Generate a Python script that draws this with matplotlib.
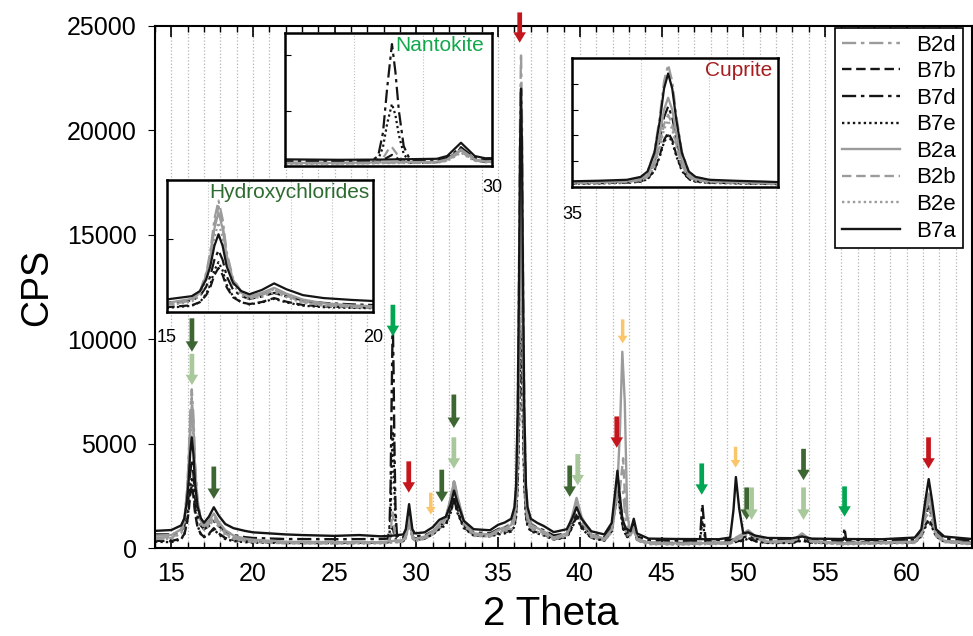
import matplotlib
matplotlib.use("Agg")
import matplotlib.pyplot as plt
from matplotlib.ticker import MultipleLocator

plt.rcParams['font.family'] = ['Liberation Sans', 'DejaVu Sans']

# ---- data: (2theta, CPS) ----
b7a = [(14.0, 820), (15.0, 860), (15.6, 1080), (15.8, 1430), (15.95, 2220), (16.05, 3100), (16.15, 4510),
       (16.25, 5300), (16.35, 4510), (16.45, 3100), (16.6, 2000), (16.8, 1430), (17.0, 1210), (17.3, 1500),
       (17.6, 1950), (17.9, 1550), (18.3, 1150), (18.8, 950), (19.5, 820), (20.0, 750), (22.0, 650),
       (23.0, 620), (25.0, 580), (26.5, 620), (27.8, 560), (28.4, 580), (29.2, 650), (29.35, 900),
       (29.45, 1500), (29.55, 2100), (29.65, 1500), (29.75, 900), (29.9, 700), (30.5, 750), (31.0, 1000),
       (31.4, 1350), (31.8, 1500), (32.1, 2100), (32.3, 2750), (32.5, 2200), (32.9, 1300), (33.5, 900),
       (34.5, 850), (35.0, 1110), (35.4, 1220), (35.8, 1400), (36.0, 1960), (36.1, 3010), (36.2, 6600),
       (36.28, 12930), (36.34, 19050), (36.4, 22000), (36.46, 19050), (36.52, 12930), (36.6, 6600),
       (36.7, 3010), (36.8, 1960), (37.0, 1400), (37.4, 1200), (37.8, 1050), (38.4, 760), (39.2, 900),
       (39.55, 1450), (39.8, 1950), (40.1, 1400), (40.7, 800), (41.5, 650), (41.95, 1200), (42.15, 2600),
       (42.3, 3700), (42.45, 2500), (42.6, 1400), (42.8, 950), (43.1, 800), (43.3, 1400), (43.5, 700),
       (44.2, 450), (46.0, 430), (48.5, 420), (49.2, 500), (49.4, 1800), (49.55, 3400), (49.75, 1900),
       (50.0, 700), (50.3, 750), (50.7, 600), (51.5, 480), (53.0, 470), (53.6, 550), (54.2, 450), (56.0, 430),
       (58.5, 420), (60.5, 500), (60.9, 900), (61.15, 2300), (61.35, 3300), (61.55, 2300), (61.8, 900),
       (62.3, 550), (64.0, 430)]

b2a = [(14.0, 600), (15.0, 620), (15.6, 900), (15.8, 1390), (15.95, 2500), (16.05, 3730), (16.15, 5690),
       (16.25, 6800), (16.35, 5690), (16.45, 3730), (16.6, 2190), (16.8, 1390), (17.0, 1080), (17.3, 1300),
       (17.6, 1650), (17.9, 1250), (18.3, 850), (18.8, 600), (19.5, 450), (20.0, 400), (22.0, 300),
       (25.0, 280), (27.8, 280), (29.2, 380), (29.35, 600), (29.45, 1050), (29.55, 1500), (29.65, 1050),
       (29.75, 600), (29.9, 420), (30.5, 550), (31.0, 800), (31.4, 1150), (31.8, 1500), (32.1, 2400),
       (32.3, 3200), (32.5, 2500), (32.9, 1300), (33.5, 700), (34.5, 650), (35.0, 870), (35.4, 950),
       (35.8, 1100), (36.0, 1530), (36.1, 2360), (36.2, 5180), (36.28, 10160), (36.34, 14980), (36.4, 17300),
       (36.46, 14980), (36.52, 10160), (36.6, 5180), (36.7, 2360), (36.8, 1530), (37.0, 1100), (37.4, 950),
       (37.8, 800), (38.4, 500), (39.2, 700), (39.55, 1600), (39.8, 2400), (40.1, 1500), (40.7, 650),
       (41.5, 450), (41.95, 900), (42.15, 2000), (42.3, 3000), (42.45, 5500), (42.6, 9400), (42.75, 7000),
       (42.9, 1600), (43.1, 700), (43.3, 1000), (43.5, 450), (44.2, 250), (46.0, 220), (49.2, 250),
       (49.55, 500), (50.0, 700), (50.3, 850), (50.7, 600), (51.5, 300), (53.0, 350), (53.6, 700),
       (54.2, 350), (56.0, 220), (60.5, 300), (60.9, 700), (61.15, 1800), (61.35, 2600), (61.55, 1800),
       (61.8, 700), (62.3, 350), (64.0, 220)]

b2d = [(14.0, 500), (15.0, 520), (15.6, 830), (15.8, 1400), (15.95, 2650), (16.05, 4080), (16.15, 6330),
       (16.25, 7600), (16.35, 6330), (16.45, 4080), (16.6, 2310), (16.8, 1400), (17.0, 1000), (17.3, 1200),
       (17.6, 1550), (17.9, 1150), (18.3, 750), (18.8, 500), (19.5, 380), (20.0, 330), (22.0, 260),
       (25.0, 250), (27.8, 250), (29.2, 330), (29.35, 550), (29.45, 950), (29.55, 1400), (29.65, 950),
       (29.75, 550), (29.9, 380), (30.5, 500), (31.0, 750), (31.4, 1100), (31.8, 1450), (32.1, 2400),
       (32.3, 3300), (32.5, 2500), (32.9, 1250), (33.5, 650), (34.5, 600), (35.0, 880), (35.4, 1000),
       (35.8, 1200), (36.0, 1800), (36.1, 2950), (36.2, 6870), (36.28, 13790), (36.34, 20470),
       (36.4, 23700), (36.46, 20470), (36.52, 13790), (36.6, 6870), (36.7, 2950), (36.8, 1800), (37.0, 1200),
       (37.4, 950), (37.8, 750), (38.4, 450), (39.2, 650), (39.55, 1500), (39.8, 2300), (40.1, 1400),
       (40.7, 600), (41.5, 400), (41.95, 850), (42.15, 1900), (42.3, 2900), (42.45, 2400), (42.65, 2700),
       (42.8, 1300), (43.1, 600), (43.3, 950), (43.5, 400), (44.2, 220), (46.0, 200), (49.2, 230),
       (50.0, 650), (50.3, 800), (50.7, 550), (51.5, 280), (53.0, 320), (53.6, 650), (54.2, 320), (56.0, 200),
       (60.5, 280), (60.9, 650), (61.15, 1700), (61.35, 2500), (61.55, 1700), (61.8, 650), (62.3, 320),
       (64.0, 200)]

b2b = [(14.0, 450), (15.0, 480), (15.6, 780), (15.8, 1320), (15.95, 2520), (16.05, 3860), (16.15, 5990),
       (16.25, 7200), (16.35, 5990), (16.45, 3860), (16.6, 2190), (16.8, 1320), (17.0, 950), (17.3, 1150),
       (17.6, 1500), (17.9, 1100), (18.3, 700), (18.8, 460), (19.5, 350), (20.0, 300), (22.0, 240),
       (25.0, 230), (27.8, 240), (28.3, 250), (28.42, 700), (28.5, 1500), (28.55, 1700), (28.62, 1100),
       (28.72, 400), (28.85, 280), (29.2, 320), (29.35, 500), (29.45, 880), (29.55, 1300), (29.65, 880),
       (29.75, 500), (29.9, 360), (30.5, 480), (31.0, 700), (31.4, 1050), (31.8, 1400), (32.1, 2300),
       (32.3, 3100), (32.5, 2400), (32.9, 1200), (33.5, 620), (34.5, 580), (35.0, 780), (35.4, 850),
       (35.8, 970), (36.0, 1320), (36.1, 1990), (36.2, 4250), (36.28, 8260), (36.34, 12130), (36.4, 14000),
       (36.46, 12130), (36.52, 8260), (36.6, 4250), (36.7, 1990), (36.8, 1320), (37.0, 970), (37.4, 850),
       (37.8, 700), (38.4, 420), (39.2, 600), (39.55, 1400), (39.8, 2200), (40.1, 1300), (40.7, 560),
       (41.5, 380), (41.95, 800), (42.15, 1800), (42.3, 2700), (42.45, 2800), (42.65, 4300), (42.8, 1800),
       (43.1, 600), (43.3, 900), (43.5, 380), (44.2, 200), (46.0, 180), (49.2, 220), (50.0, 600), (50.3, 750),
       (50.7, 520), (51.5, 260), (53.0, 300), (53.6, 620), (54.2, 300), (56.0, 190), (60.5, 260), (60.9, 620),
       (61.15, 1600), (61.35, 2300), (61.55, 1600), (61.8, 620), (62.3, 300), (64.0, 190)]

b2e = [(14.0, 420), (15.0, 450), (15.6, 700), (15.8, 1150), (15.95, 2170), (16.05, 3290), (16.15, 5090),
       (16.25, 6100), (16.35, 5090), (16.45, 3290), (16.6, 1890), (16.8, 1150), (17.0, 870), (17.3, 1050),
       (17.6, 1350), (17.9, 1000), (18.3, 620), (18.8, 420), (19.5, 320), (20.0, 280), (22.0, 220),
       (25.0, 210), (27.8, 220), (29.2, 290), (29.35, 460), (29.45, 810), (29.55, 1200), (29.65, 810),
       (29.75, 460), (29.9, 330), (30.5, 430), (31.0, 650), (31.4, 950), (31.8, 1300), (32.1, 2100),
       (32.3, 2900), (32.5, 2200), (32.9, 1100), (33.5, 580), (34.5, 550), (35.0, 720), (35.4, 780),
       (35.8, 900), (36.0, 1220), (36.1, 1830), (36.2, 3920), (36.28, 7610), (36.34, 11180), (36.4, 12900),
       (36.46, 11180), (36.52, 7610), (36.6, 3920), (36.7, 1830), (36.8, 1220), (37.0, 900), (37.4, 780),
       (37.8, 650), (38.4, 400), (39.2, 560), (39.55, 1300), (39.8, 2000), (40.1, 1200), (40.7, 520),
       (41.5, 350), (41.95, 750), (42.15, 1700), (42.3, 2500), (42.45, 1800), (42.65, 1200), (42.9, 600),
       (43.3, 850), (43.5, 350), (44.2, 180), (46.0, 160), (49.2, 200), (50.0, 550), (50.3, 700), (50.7, 480),
       (51.5, 240), (53.0, 280), (53.6, 580), (54.2, 280), (56.0, 170), (60.5, 240), (60.9, 560),
       (61.15, 1300), (61.35, 1800), (61.55, 1300), (61.8, 560), (62.3, 280), (64.0, 170)]

b7d = [(14.0, 650), (15.0, 650), (15.6, 790), (15.8, 1080), (15.95, 1720), (16.05, 2430), (16.15, 3560),
       (16.25, 4200), (16.35, 3560), (16.45, 2430), (16.6, 1540), (16.8, 1080), (17.0, 900), (17.3, 1050),
       (17.6, 1300), (17.9, 1050), (18.3, 800), (18.8, 620), (19.5, 520), (20.0, 480), (22.0, 430),
       (25.0, 420), (27.8, 430), (28.25, 450), (28.35, 900), (28.42, 3000), (28.48, 7000), (28.55, 11000),
       (28.6, 8500), (28.65, 5000), (28.72, 1800), (28.8, 700), (28.9, 480), (29.2, 500), (29.35, 730),
       (29.45, 1200), (29.55, 1700), (29.65, 1200), (29.75, 730), (29.9, 560), (30.5, 600), (31.0, 800),
       (31.4, 1050), (31.8, 1250), (32.1, 1900), (32.3, 2500), (32.5, 1900), (32.9, 1100), (33.5, 750),
       (34.5, 700), (35.0, 900), (35.4, 970), (35.8, 1110), (36.0, 1490), (36.1, 2240), (36.2, 4760),
       (36.28, 9210), (36.34, 13520), (36.4, 15600), (36.46, 13520), (36.52, 9210), (36.6, 4760),
       (36.7, 2240), (36.8, 1490), (37.0, 1110), (37.4, 970), (37.8, 850), (38.4, 600), (39.2, 700),
       (39.55, 1200), (39.8, 1700), (40.1, 1150), (40.7, 650), (41.5, 520), (41.95, 1000), (42.15, 2200),
       (42.3, 3300), (42.45, 2200), (42.65, 1200), (42.9, 700), (43.3, 1200), (43.5, 550), (44.2, 380),
       (46.0, 350), (47.35, 360), (47.45, 1600), (47.5, 2100), (47.6, 1200), (47.7, 370), (49.2, 380),
       (50.0, 500), (50.3, 600), (50.7, 450), (51.5, 380), (53.0, 380), (53.6, 480), (54.2, 380), (56.1, 370),
       (56.2, 950), (56.3, 380), (60.5, 400), (60.9, 750), (61.15, 1500), (61.35, 2000), (61.55, 1500),
       (61.8, 750), (62.3, 450), (64.0, 370)]

b7e = [(14.0, 300), (15.0, 280), (15.6, 420), (15.8, 670), (15.95, 1230), (16.05, 1850), (16.15, 2840),
       (16.25, 3400), (16.35, 2840), (16.45, 1850), (16.6, 1080), (16.8, 670), (17.0, 520), (17.3, 650),
       (17.6, 900), (17.9, 650), (18.3, 430), (18.8, 330), (19.5, 280), (20.0, 260), (22.0, 240),
       (25.0, 240), (27.8, 260), (28.25, 280), (28.35, 600), (28.42, 1700), (28.48, 3800), (28.55, 5600),
       (28.6, 4600), (28.65, 2800), (28.72, 1100), (28.8, 400), (28.9, 300), (29.2, 340), (29.35, 570),
       (29.45, 1020), (29.55, 1500), (29.65, 1020), (29.75, 570), (29.9, 380), (30.5, 450), (31.0, 650),
       (31.4, 900), (31.8, 1100), (32.1, 1700), (32.3, 2300), (32.5, 1700), (32.9, 950), (33.5, 600),
       (34.5, 560), (35.0, 650), (35.4, 700), (35.8, 790), (36.0, 1030), (36.1, 1500), (36.2, 3110),
       (36.28, 5940), (36.34, 8680), (36.4, 10000), (36.46, 8680), (36.52, 5940), (36.6, 3110), (36.7, 1500),
       (36.8, 1030), (37.0, 790), (37.4, 700), (37.8, 600), (38.4, 400), (39.2, 500), (39.55, 1000),
       (39.8, 1500), (40.1, 950), (40.7, 480), (41.5, 350), (41.95, 800), (42.15, 1900), (42.3, 2900),
       (42.45, 1900), (42.65, 900), (42.9, 500), (43.3, 1000), (43.5, 380), (44.2, 230), (46.0, 220),
       (47.35, 230), (47.45, 1000), (47.5, 1300), (47.6, 800), (47.7, 240), (49.2, 240), (50.0, 350),
       (50.3, 450), (50.7, 320), (51.5, 240), (53.0, 240), (53.6, 350), (54.2, 240), (56.1, 240), (56.2, 600),
       (56.3, 240), (60.5, 260), (60.9, 550), (61.15, 1000), (61.35, 1300), (61.55, 1000), (61.8, 550),
       (62.3, 300), (64.0, 230)]

b7b = [(14.0, 350), (15.0, 330), (15.6, 460), (15.8, 670), (15.95, 1150), (16.05, 1680), (16.15, 2520),
       (16.25, 3000), (16.35, 2520), (16.45, 1680), (16.6, 1010), (16.8, 670), (17.0, 540), (17.3, 680),
       (17.6, 950), (17.9, 700), (18.3, 480), (18.8, 380), (19.5, 320), (20.0, 300), (22.0, 280),
       (25.0, 270), (27.8, 280), (28.3, 290), (28.45, 650), (28.55, 1000), (28.65, 600), (28.8, 300),
       (29.2, 360), (29.35, 600), (29.45, 1090), (29.55, 1600), (29.65, 1090), (29.75, 600), (29.9, 400),
       (30.5, 470), (31.0, 680), (31.4, 950), (31.8, 1150), (32.1, 1750), (32.3, 2350), (32.5, 1750),
       (32.9, 1000), (33.5, 620), (34.5, 580), (35.0, 700), (35.4, 750), (35.8, 840), (36.0, 1100),
       (36.1, 1590), (36.2, 3270), (36.28, 6240), (36.34, 9110), (36.4, 10500), (36.46, 9110), (36.52, 6240),
       (36.6, 3270), (36.7, 1590), (36.8, 1100), (37.0, 840), (37.4, 750), (37.8, 650), (38.4, 420),
       (39.2, 520), (39.55, 1050), (39.8, 1550), (40.1, 1000), (40.7, 500), (41.5, 370), (41.95, 850),
       (42.15, 2000), (42.3, 3000), (42.45, 2000), (42.65, 950), (42.9, 520), (43.3, 1050), (43.5, 400),
       (44.2, 250), (46.0, 240), (49.2, 250), (50.0, 380), (50.3, 480), (50.7, 340), (51.5, 250), (53.0, 260),
       (53.6, 380), (54.2, 260), (56.0, 250), (60.5, 280), (60.9, 600), (61.15, 1100), (61.35, 1400),
       (61.55, 1100), (61.8, 600), (62.3, 320), (64.0, 250)]

samples = ['B2d', 'B7b', 'B7d', 'B7e', 'B2a', 'B2b', 'B2e', 'B7a']
series = [b2d, b7b, b7d, b7e, b2a, b2b, b2e, b7a]

GRAY = '#9b9b9b'
BLACK = '#151515'
styles = {
    'B2d': dict(color=GRAY, dashes=(6, 2, 1.5, 2)),
    'B7b': dict(color=BLACK, dashes=(4, 2)),
    'B7d': dict(color=BLACK, dashes=(6, 2, 1.5, 2)),
    'B7e': dict(color=BLACK, dashes=(1, 1.3)),
    'B2a': dict(color=GRAY, linestyle='-'),
    'B2b': dict(color=GRAY, dashes=(4, 2)),
    'B2e': dict(color=GRAY, dashes=(1, 1.3)),
    'B7a': dict(color=BLACK, linestyle='-'),
}

# arrows: x, tail, tip, kind
arrows = [(16.26, 11000, 9400, 'dark'), (16.26, 9300, 7800, 'light'),
          (17.6, 3900, 2350, 'dark'), (28.56, 11650, 10150, 'bright'),
          (29.53, 4150, 2650, 'red'), (30.88, 2650, 1600, 'yellow'),
          (31.55, 3750, 2200, 'dark'), (32.29, 7350, 5750, 'dark'),
          (32.29, 5300, 3800, 'light'), (36.32, 25650, 24200, 'red'),
          (39.38, 3950, 2450, 'dark'), (39.87, 4500, 3000, 'light'),
          (42.26, 6300, 4800, 'red'), (42.62, 10950, 9800, 'yellow'),
          (47.46, 4050, 2550, 'bright'), (49.53, 4850, 3850, 'yellow'),
          (50.21, 2900, 1350, 'dark'), (50.51, 2900, 1350, 'light'),
          (53.69, 4750, 3250, 'dark'), (53.69, 2900, 1350, 'light'),
          (56.2, 2950, 1500, 'bright'), (61.34, 5300, 3800, 'red')]
arrow_colors = {'dark': '#3e6633', 'light': '#a9c89b', 'bright': '#00a651',
                'red': '#c4161c', 'yellow': '#fbc56a'}


def draw_series(ax, lw=1.7):
    for name, pts in zip(samples, series):
        xs = [p[0] for p in pts]
        ys = [p[1] for p in pts]
        ax.plot(xs, ys, lw=lw, label=name, **styles[name])


fig = plt.figure(figsize=(9.73, 6.36), dpi=100)
ax = fig.add_axes([155/973, 1-548/636, 817/973, 522/636])
draw_series(ax)

ax.set_xlim(14, 64)
ax.set_ylim(0, 25000)
ax.xaxis.set_major_locator(MultipleLocator(5))
ax.xaxis.set_minor_locator(MultipleLocator(1))
ax.yaxis.set_major_locator(MultipleLocator(5000))
ax.grid(which='both', axis='x', linestyle=':', color='#b5b5b5', linewidth=0.9)
ax.tick_params(axis='x', which='both', direction='in', top=True, labelsize=18, pad=10)
ax.tick_params(axis='x', which='major', length=8, width=1.2)
ax.tick_params(axis='x', which='minor', length=4, width=1)
ax.tick_params(axis='y', direction='out', length=5, labelsize=18, pad=8)
for s in ax.spines.values():
    s.set_linewidth(1.5)
ax.set_xlabel('2 Theta', fontsize=29)
ax.set_ylabel('CPS', fontsize=27)
ax.xaxis.set_label_coords(0.485, -0.09)
ax.yaxis.set_label_coords(-0.122, 0.5)

for x, y0, y1, kind in arrows:
    small = kind == 'yellow'
    st = ('simple,head_length=0.55,head_width=0.7,tail_width=0.25' if small
          else 'simple,head_length=0.75,head_width=0.9,tail_width=0.34')
    ax.annotate('', xy=(x, y1), xytext=(x, y0), annotation_clip=False,
                arrowprops=dict(arrowstyle=st, fc=arrow_colors[kind], ec='none',
                                shrinkA=0, shrinkB=0, mutation_scale=10))

leg = ax.legend(loc='upper right', bbox_to_anchor=(963/973, 1-28/636), bbox_transform=fig.transFigure,
                borderaxespad=0, fontsize=16, handlelength=2.6, labelspacing=0.25, handletextpad=0.75,
                fancybox=False, framealpha=1, edgecolor='black', borderpad=0.3)
leg.get_frame().set_linewidth(1.2)

# insets: (rect in px, xlim, ylim, label ticks, pad, title, title x, title colour)
insets = [((167, 180, 373, 312), (15, 20), (0, 9000), [15, 20], 12, 'Hydroxychlorides', 0.985, '#2e6b30'),
          ((285, 33, 492, 166), (27, 30), (0, 12000), [30], 9, 'Nantokite', 0.96, '#14a84d'),
          ((572, 58, 778, 187), (35, 38), (0, 25000), [35], 14, 'Cuprite', 0.97, '#a51d1f')]

for (x0, y0, x1, y1), xl, yl, ticks, pad, title, tx, tc in insets:
    ia = fig.add_axes([x0/973, 1-y1/636, (x1-x0)/973, (y1-y0)/636])
    draw_series(ia, lw=1.6)
    ia.set_xlim(*xl)
    ia.set_ylim(*yl)
    ia.set_xticks(ticks)
    ia.xaxis.set_minor_locator(MultipleLocator(1))
    ia.yaxis.set_major_locator(MultipleLocator(5000))
    ia.set_yticklabels([])
    ia.grid(which='both', axis='x', linestyle=':', color='#c0c0c0', linewidth=0.8)
    ia.tick_params(axis='x', which='both', length=0, labelsize=13, pad=pad)
    ia.tick_params(axis='y', direction='in', length=4)
    for s in ia.spines.values():
        s.set_linewidth(1.8)
    ia.text(tx, 0.975, title, transform=ia.transAxes, ha='right', va='top',
            fontsize=15, color=tc)

fig.savefig('out.png', dpi=100)
